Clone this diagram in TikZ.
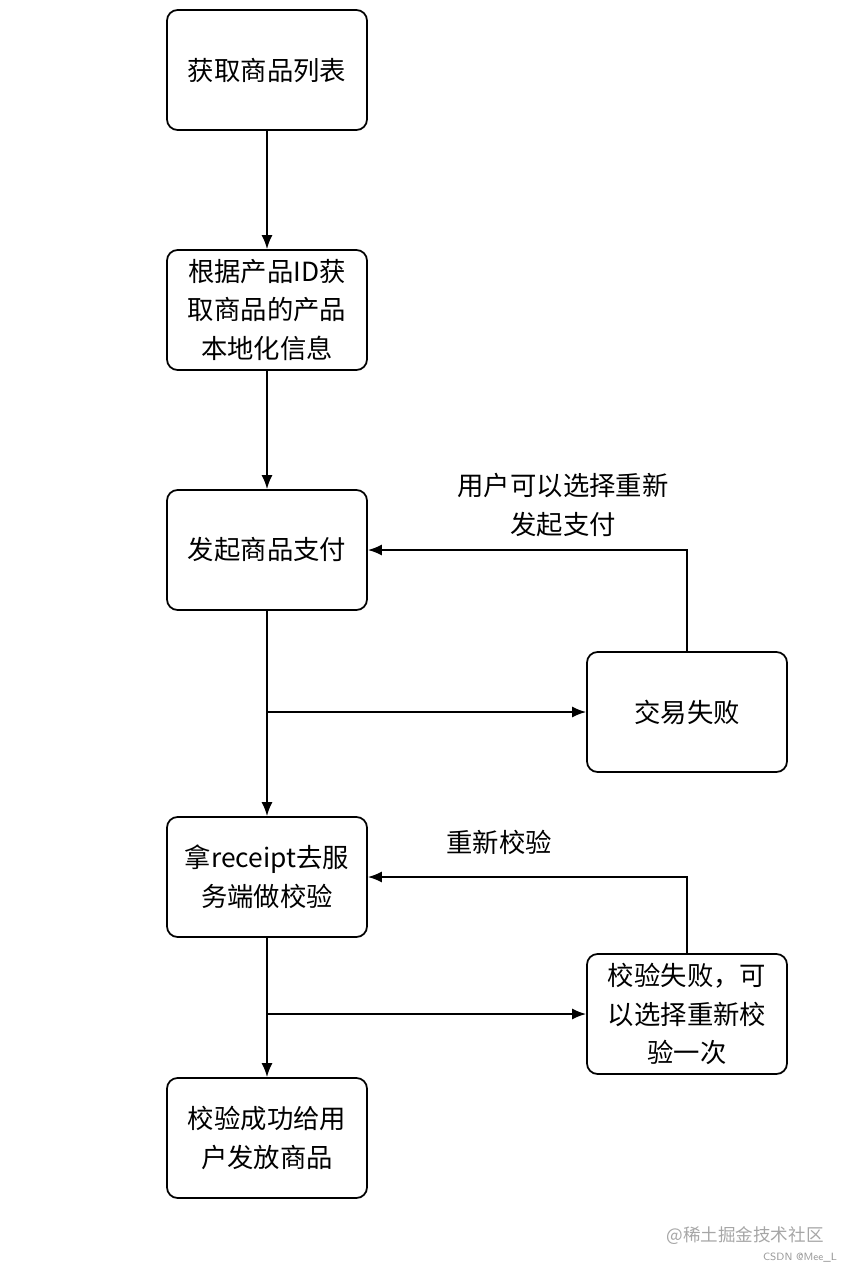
\documentclass[tikz,border=0pt]{standalone}
\usepackage{fontspec}
\setmainfont{Noto Sans CJK SC}
\usepackage{tikz}
\usetikzlibrary{positioning, arrows, arrows.meta}

\tikzset{
  stepbox/.style={draw, line width=1pt, rounded corners=6pt, minimum width=4cm, minimum height=2.4cm,
                  align=center, inner sep=2pt, font=\fontsize{15}{22}\selectfont},
  flow/.style={-{Latex[length=2.8mm,width=2.2mm]}, line width=1pt},
  note/.style={align=center, font=\fontsize{15}{22}\selectfont}
}

\begin{document}
\begin{tikzpicture}[>=latex, x=0.02cm, y=-0.02cm]
            \useasboundingbox (0,0) rectangle (852,1272);
            % main column
                \node[stepbox] (list)    at (267,70)   {获取商品列表};
                \node[stepbox] (local)   at (267,310)  {根据产品ID获\\取商品的产品\\本地化信息};
                \node[stepbox] (pay)     at (267,550)  {发起商品支付};
                \node[stepbox] (verify)  at (267,877)  {拿receipt去服\\务端做校验};
                \node[stepbox] (deliver) at (267,1138) {校验成功给用\\户发放商品};
            % side column
                \node[stepbox] (fail)    at (687,712)  {交易失败};
                \node[stepbox] (vfail)   at (687,1014) {校验失败，可\\以选择重新校\\验一次};

                \draw[flow] (list) -- (local);
                \draw[flow] (local) -- (pay);
                \draw[flow] (pay) -- (verify);
                \draw[flow] (verify) -- (deliver);

                \coordinate (fork1) at (pay.south |- fail.west);
                \coordinate (fork2) at (verify.south |- vfail.west);
                \draw[flow] (fork1) -- (fail.west);
                \draw[flow] (fork2) -- (vfail.west);
                \draw[flow] (fail.north) |- (pay.east);
                \draw[flow] (vfail.north) |- (verify.east);

                \node[note] (retry)  at (563,505) {用户可以选择重新\\发起支付};
                \node[note] (recheck) at (499,842) {重新校验};

            % watermark
                \node[text=gray!70, font=\fontsize{10}{12}\selectfont] (mark) at (745,1236) {@稀土掘金技术社区};
                \node[text=gray!80, font=\fontsize{6}{7}\selectfont\sffamily] (csdn) at (800,1258) {CSDN @Mee\_L};
\end{tikzpicture}
\end{document}
